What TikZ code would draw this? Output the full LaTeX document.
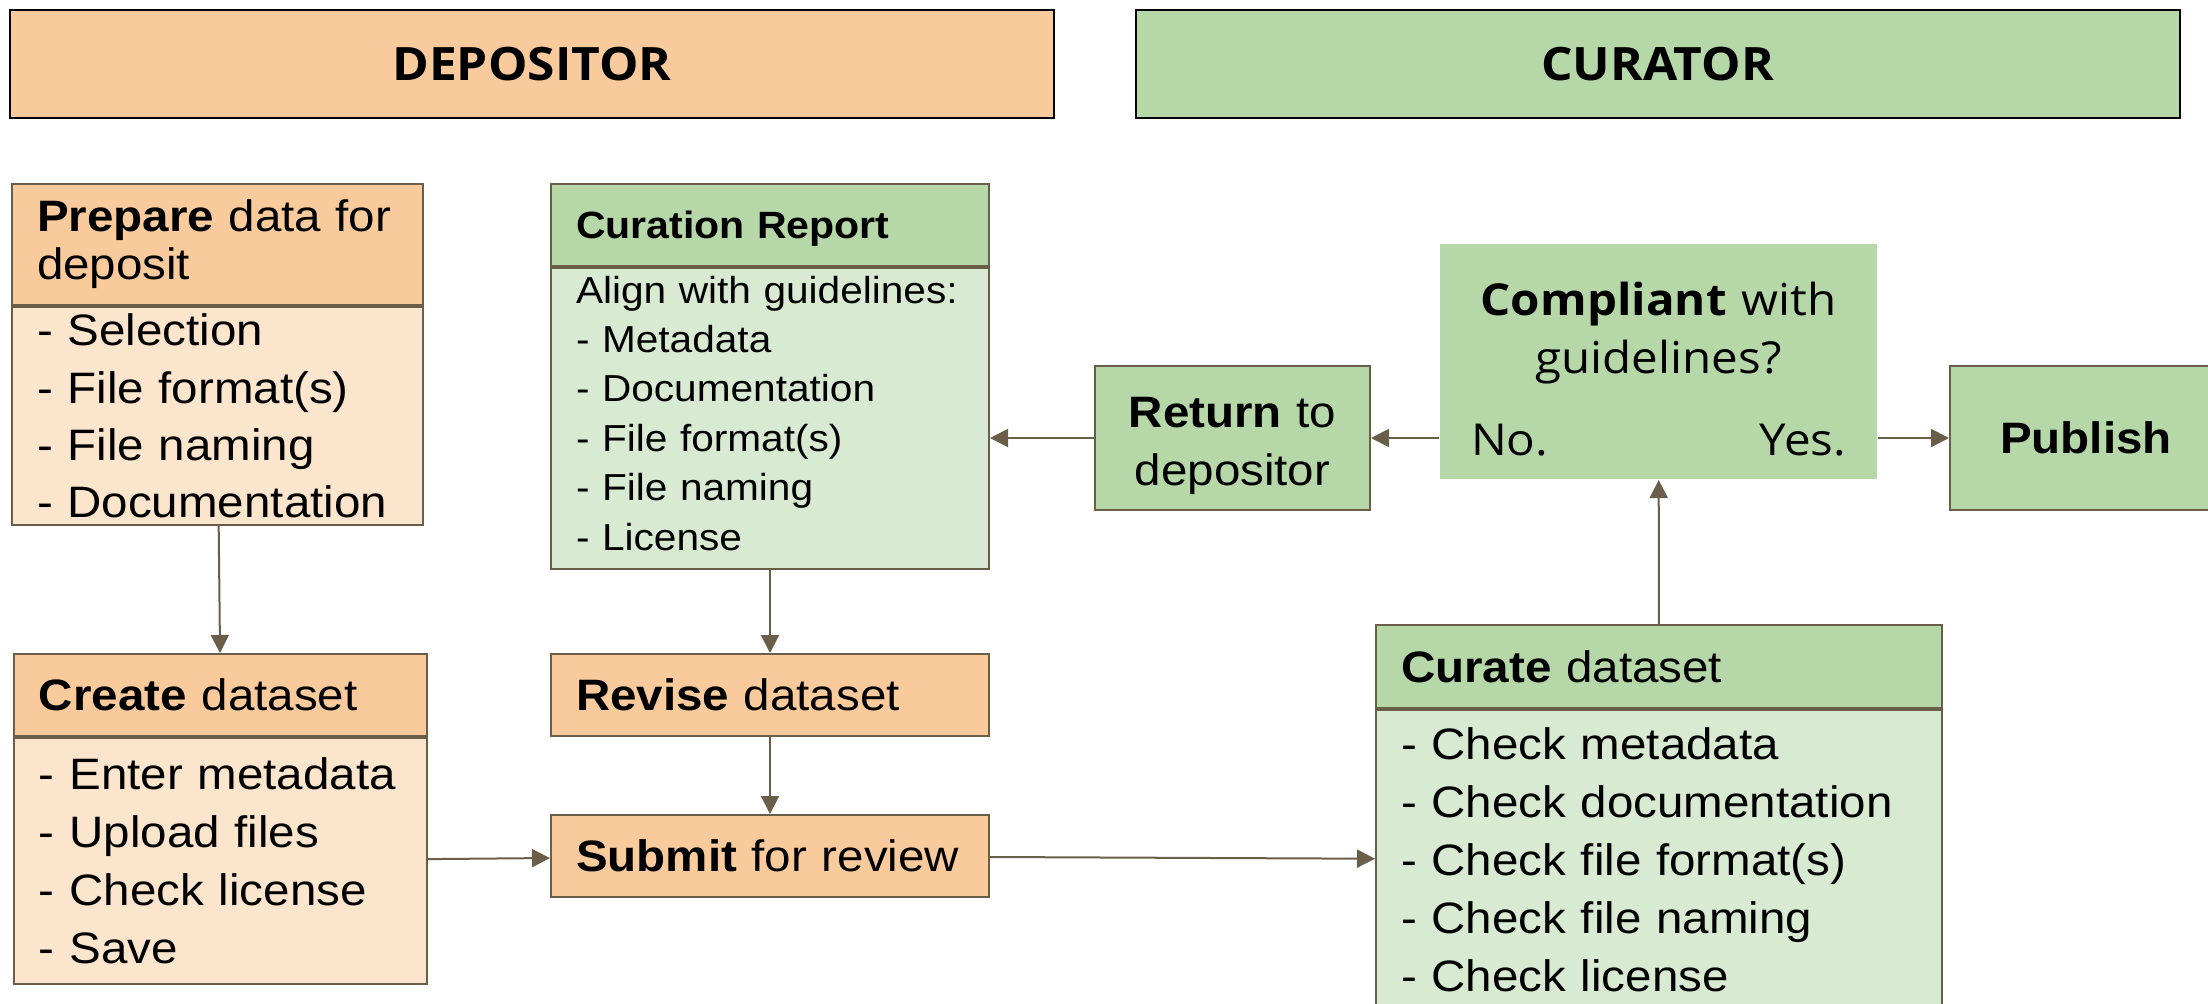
\documentclass[tikz,border=0pt]{standalone}
\usepackage{fontspec}
\setmainfont{Liberation Sans}[FakeStretch=1.08]
\newfontfamily\opensans{Open Sans}[FakeStretch=1.08]
\usetikzlibrary{shapes}
\usetikzlibrary{arrows.meta}

\definecolor{orhead}{HTML}{F9CB9C}
\definecolor{orbody}{HTML}{FCE5CD}
\definecolor{grhead}{HTML}{B6D7A8}
\definecolor{grbody}{HTML}{D9EAD3}
\definecolor{linebrown}{HTML}{6B5E49}
\newcommand{\boxfont}{\fontsize{22}{29}\selectfont}

\begin{document}
\begin{tikzpicture}[x=0.5pt,y=-0.5pt]
			\tikzstyle{lane}=[draw=black,line width=1pt,minimum width=522pt,minimum height=54pt,font=\opensans\bfseries\fontsize{23}{28}\selectfont]
			\tikzstyle{box}=[draw=linebrown,line width=1pt,anchor=north west,align=left,inner xsep=12.5pt,inner ysep=0pt,font=\boxfont]
			\tikzstyle{orh}=[box,fill=orhead]
			\tikzstyle{orb}=[box,fill=orbody]
			\tikzstyle{grh}=[box,fill=grhead]
			\tikzstyle{grb}=[box,fill=grbody]
			\tikzstyle{flow}=[draw=linebrown,line width=1pt,-{Triangle[length=9pt,width=9pt]}]
			
			\useasboundingbox (0,0) rectangle (2208,1003);
			
			% lanes
			\node[lane,fill=orhead] (depositor) at (532,64) {DEPOSITOR};
			\node[lane,fill=grhead] (curator) at (1657.5,64) {CURATOR};
			
			% depositor side
			\node[orh,text width=180.5pt,minimum height=60.5pt,font=\fontsize{22}{24}\selectfont] (prep) at (11,183) {\textbf{Prepare} data for\\deposit};
			\node[orb,text width=180.5pt,minimum height=109pt,font=\fontsize{22}{28.7}\selectfont] (prepbody) at (prep.south west) {- Selection\\- File format(s)\\- File naming\\- Documentation};
			
			\node[orh,text width=181.5pt,minimum height=41pt] (crt) at (13,653) {\textbf{Create} dataset};
			\node[orb,text width=181.5pt,minimum height=123pt] (crtbody) at (crt.south west) {- Enter metadata\\- Upload files\\- Check license\\- Save};
			
			\node[grh,text width=194pt,minimum height=41pt,text depth=0pt,font=\fontsize{19}{23}\selectfont\bfseries] (rep) at (550,183) {Curation Report};
			\node[grb,text width=194pt,minimum height=150.5pt,font=\fontsize{18.8}{24.7}\selectfont] (repbody) at (rep.south west) {Align with guidelines:\\- Metadata\\- Documentation\\- File format(s)\\- File naming\\- License\rule[-5.6pt]{0pt}{0pt}};
			
			\node[orh,text width=194pt,minimum height=41pt] (rev) at (550,653) {\textbf{Revise} dataset};
			\node[orh,text width=194pt,minimum height=41pt] (sub) at (550,814) {\textbf{Submit} for review};
			
			% curator side
			\node[grh,align=center,text width=112.5pt,minimum height=72pt] (ret) at (1094,365) {\rule{0pt}{23pt}\textbf{Return} to\\depositor};
			\node[grh,draw=none,align=center,inner xsep=15.5pt,text width=187.5pt,minimum height=117.5pt,font=\opensans\fontsize{22}{29}\selectfont] (comp) at (1439,243) {\rule{0pt}{24.5pt}\textbf{Compliant} with\\guidelines?\\[12pt]No.\hfill Yes.};
			\node[grh,align=center,text width=111pt,minimum height=72pt,font=\boxfont\bfseries] (pub) at (1949,365) {Publish};
			
			\node[grh,text width=258pt,minimum height=41.5pt] (cura) at (1375,624) {\textbf{Curate} dataset};
			\node[grb,text width=258pt,minimum height=150pt] (curabody) at (cura.south west) {- Check metadata\\- Check documentation\\- Check file format(s)\\- Check file naming\\- Check license};
			
			\draw[flow] (prepbody) -- (crt);
			\draw[flow] (repbody) -- (rev);
			\draw[flow] (rev) -- (sub);
			\draw[flow] (crtbody) -- (sub);
			\draw[flow] (sub) -- (curabody);
			\draw[flow] (cura) -- (comp);
			\draw[flow] (comp.west |- ret.east) -- (ret.east);
			\draw[flow] (ret.west) -- (ret.west -| repbody.east);
			\draw[flow] (comp.east |- pub.west) -- (pub.west);
\end{tikzpicture}
\end{document}
